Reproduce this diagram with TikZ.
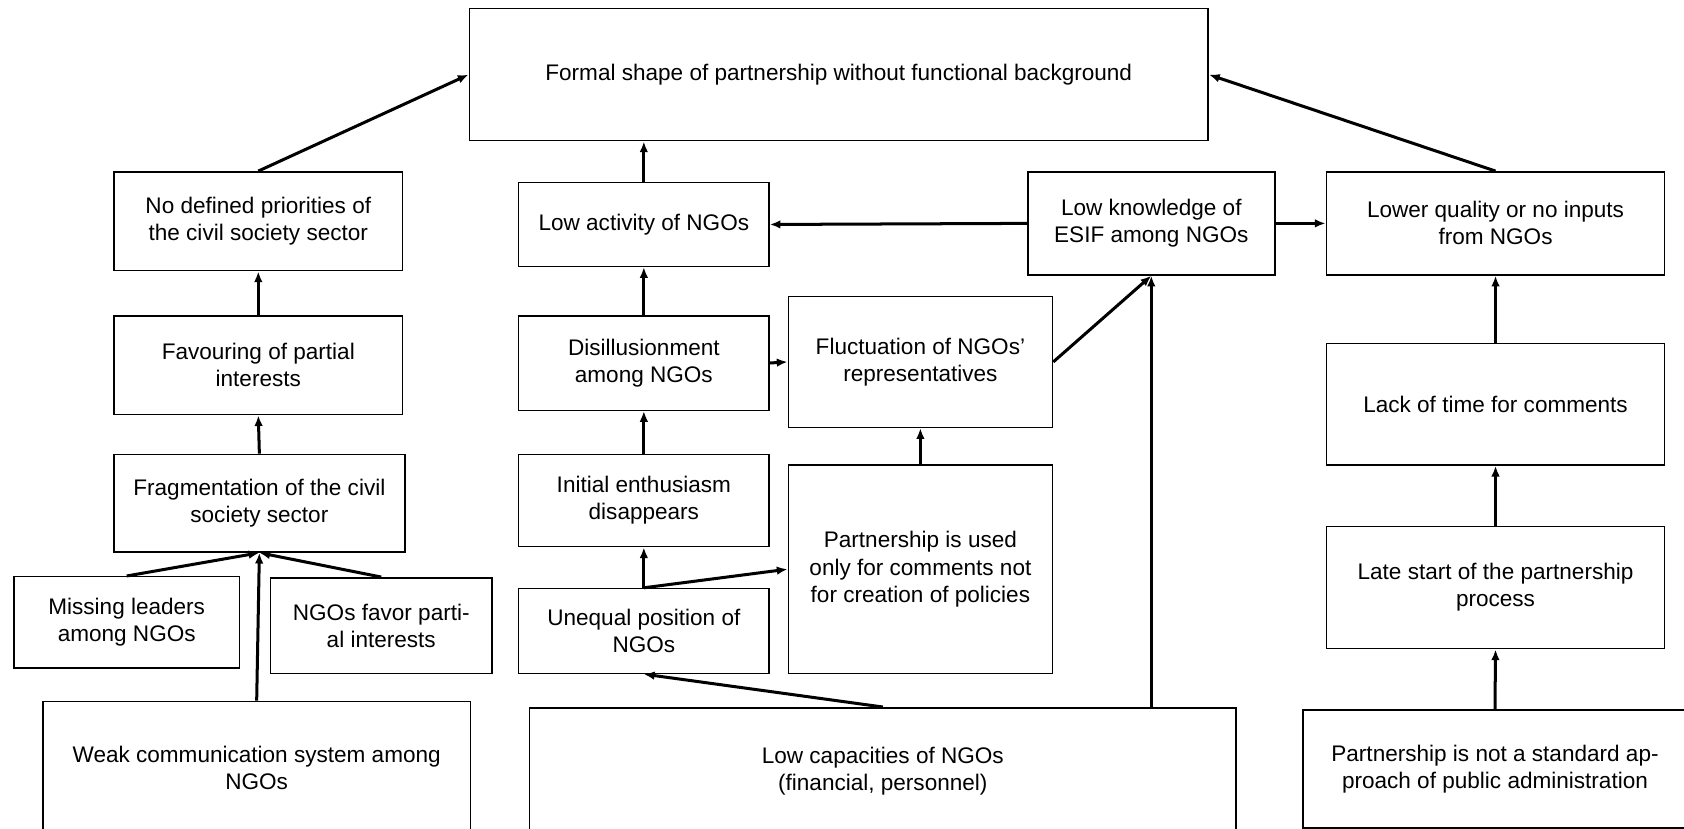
\documentclass[tikz,border=0pt]{standalone}
\usepackage{fontspec}
\setmainfont{Liberation Sans}
\usepackage{tikz}
\usetikzlibrary{arrows.meta}

\tikzset{
  box/.style={draw, line width=0.7pt, rectangle, align=center, inner sep=0pt,
    font=\fontsize{10.5}{12.6}\selectfont},
  cause/.style={-{Latex[length=5pt,width=4pt]}, line width=1.4pt}
}

\begin{document}
\begin{tikzpicture}[x=0.5pt,y=-0.5pt]
\useasboundingbox (0,0) rectangle (1568,771);
\clip (0,0) rectangle (1568,771);

% top
\node[box, minimum width=344pt, minimum height=61.5pt] (formal) at (781,69.5) {Formal shape of partnership without functional background};

% left column
\node[box, minimum width=134.5pt, minimum height=46pt] (nodef) at (240.5,206) {No defined priorities of\\the civil society sector};
\node[box, minimum width=134.5pt, minimum height=46pt] (favour) at (240.5,340) {Favouring of partial\\interests};
\node[box, minimum width=135.5pt, minimum height=45.5pt] (frag) at (241.5,468.5) {Fragmentation of the civil\\society sector};
\node[box, minimum width=105pt, minimum height=42.5pt] (missing) at (118,579.5) {Missing leaders\\among NGOs};
\node[box, minimum width=103pt, minimum height=44.5pt] (favor) at (355,582.5) {NGOs favor parti-\\al interests};
\node[box, minimum width=199pt, minimum height=62pt] (weak) at (239,715) {Weak communication system among\\NGOs};

% middle column
\node[box, minimum width=116.5pt, minimum height=39pt] (lowact) at (599.5,209) {Low activity of NGOs};
\node[box, minimum width=116.5pt, minimum height=44pt] (disill) at (599.5,338) {Disillusionment\\among NGOs};
\node[box, minimum width=116.5pt, minimum height=43pt] (initial) at (599.5,466) {Initial enthusiasm\\disappears};
\node[box, minimum width=116.5pt, minimum height=39.5pt] (unequal) at (599.5,587.5) {Unequal position of\\NGOs};
\node[box, minimum width=123pt, minimum height=61pt] (fluct) at (857,337) {Fluctuation of NGOs'\\representatives};
\node[box, minimum width=123pt, minimum height=97pt] (used) at (857,530) {Partnership is used\\only for comments not\\for creation of policies};
\node[box, minimum width=329pt, minimum height=59pt] (lowcap) at (822,718) {Low capacities of NGOs\\(financial, personnel)};
\node[box, minimum width=115pt, minimum height=48pt] (lowknow) at (1072,208) {Low knowledge of\\ESIF among NGOs};

% right column
\node[box, minimum width=157.5pt, minimum height=48pt] (lowqual) at (1392.5,208) {Lower quality or no inputs\\from NGOs};
\node[box, minimum width=157.5pt, minimum height=56.5pt] (lacktime) at (1392.5,376.5) {Lack of time for comments};
\node[box, minimum width=157.5pt, minimum height=57pt] (late) at (1392.5,547) {Late start of the partnership\\process};
\node[box, minimum width=179pt, minimum height=55pt] (notstd) at (1392,716) {Partnership is not a standard ap-\\proach of public administration};

% arrows
\draw[cause] (nodef.north) -- (formal.west);
\draw[cause] (favour.north) -- (nodef.south);
\draw[cause] (frag.north) -- (favour.south);
\draw[cause] (missing.north) -- (frag.south);
\draw[cause] (favor.north) -- (frag.south);
\draw[cause] (weak.north) -- (frag.south);

\draw[cause] (lowact.north) -- (lowact.north |- formal.south);
\draw[cause] (disill.north) -- (lowact.south);
\draw[cause] (initial.north) -- (disill.south);
\draw[cause] (unequal.north) -- (initial.south);
\draw[cause] (unequal.north) -- (used.west);
\draw[cause] (disill.east) -- (fluct.west);
\draw[cause] (used.north) -- (fluct.south);
\draw[cause] (fluct.east) -- (lowknow.south);
\draw[cause] (lowknow.south |- lowcap.north) -- (lowknow.south);
\draw[cause] (lowcap.north) -- (unequal.south);
\draw[cause] (lowknow.west) -- (lowact.east);
\draw[cause] (lowknow.east) -- (lowqual.west);

\draw[cause] (lowqual.north) -- (formal.east);
\draw[cause] (lacktime.north) -- (lowqual.south);
\draw[cause] (late.north) -- (lacktime.south);
\draw[cause] (notstd.north) -- (late.south);
\end{tikzpicture}
\end{document}
